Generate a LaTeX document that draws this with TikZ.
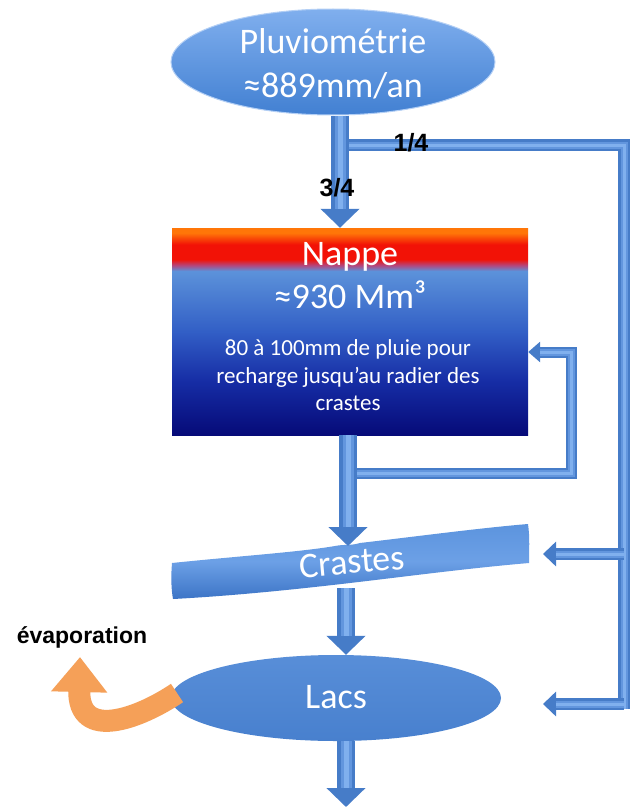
\documentclass[tikz,border=0pt]{standalone}
\usepackage{fontspec}
\setmainfont{Carlito}
\newfontfamily\labfont{Liberation Sans}
\usetikzlibrary{shapes.geometric,arrows.meta}
\definecolor{arrowdark}{RGB}{70,124,200}
\definecolor{arrowmid}{RGB}{98,150,222}
\definecolor{arrowlight}{RGB}{128,176,238}
\definecolor{pluvtop}{RGB}{128,175,238}
\definecolor{pluvbot}{RGB}{66,128,210}
\definecolor{lacstop}{RGB}{88,142,216}
\definecolor{lacsbot}{RGB}{72,128,206}
\definecolor{crtop}{RGB}{92,148,222}
\definecolor{crmid}{RGB}{108,160,230}
\definecolor{crbot}{RGB}{60,116,198}
\definecolor{evapcol}{RGB}{245,160,88}
\definecolor{nv0}{RGB}{6,10,120}
\definecolor{nv1}{RGB}{22,45,165}
\definecolor{nv2}{RGB}{50,95,198}
\definecolor{nv3}{RGB}{92,146,218}
\definecolor{nvp}{RGB}{180,70,125}
\definecolor{nred}{RGB}{242,18,6}
\definecolor{norange}{RGB}{255,118,8}
\pgfdeclareverticalshading{nappeshade}{100bp}{color(0bp)=(nv0); color(25bp)=(nv0); color(38bp)=(nv1); color(50bp)=(nv2); color(64.6bp)=(nv3); color(66bp)=(nvp); color(67.4bp)=(nred); color(71bp)=(nred); color(73.8bp)=(norange); color(100bp)=(norange)}
\begin{document}
\begin{tikzpicture}[x=1pt,y=-1pt,
  flow/.style={draw=arrowdark, line width=18pt, -{Triangle[length=19pt,width=38pt]},
    postaction={draw=arrowmid, line width=11pt, -, shorten >=19pt},
    postaction={draw=arrowlight, line width=5pt, -, shorten >=19pt}},
  sflow/.style={draw=arrowdark, line width=12pt, -{Triangle[length=13pt,width=24pt]},
    postaction={draw=arrowmid, line width=7pt, -, shorten >=13pt},
    postaction={draw=arrowlight, line width=3pt, -, shorten >=13pt}},
  loopflow/.style={draw=arrowdark, line width=11pt, -{Triangle[length=12pt,width=20pt]},
    postaction={draw=arrowmid, line width=7pt, -, shorten >=12pt},
    postaction={draw=arrowlight, line width=3pt, -, shorten >=12pt}},
  barline/.style={draw=arrowdark, line width=12pt,
    postaction={draw=arrowmid, line width=7pt},
    postaction={draw=arrowlight, line width=3pt}},
  evap/.style={draw=evapcol, line width=22pt, -{Triangle[length=35pt,width=54pt]}},
  bigtext/.style={text=white, font=\fontsize{36}{44}\selectfont, align=center},
  smalltext/.style={text=white, font=\fontsize{23}{28}\selectfont, align=center},
  fraclabel/.style={font=\labfont\bfseries\fontsize{25}{28}\selectfont},
]
\useasboundingbox[fill=white] (0,0) rectangle (631,808);

% coordinates
\coordinate (s1) at (340,0);
\coordinate (j1) at (340,145);
\coordinate (rb) at (624,145);
\coordinate (rbb) at (624,709);
\coordinate (r1) at (624,554);
\coordinate (c1) at (543,554);
\coordinate (r2) at (624,704);
\coordinate (l2) at (543,704);
\coordinate (s2) at (348,0);
\coordinate (crtopc) at (348,546);
\coordinate (lp1) at (348,473);
\coordinate (lp2) at (571,473);
\coordinate (lp3) at (571,352);
\coordinate (crbotc) at (346,588);
\coordinate (s3) at (346,0);
\coordinate (outc) at (346,807);
\coordinate (ev0) at (177,693);
\coordinate (ev1) at (80,657);

% nodes
\node[ellipse, minimum width=324pt, minimum height=106pt, inner sep=0pt,
      top color=pluvtop, bottom color=pluvbot, draw=pluvtop!60!white, line width=1pt] (pluv) at (333,62) {};
\node[bigtext] (pluvtxt) at (333,64) {Pluviométrie\\≈889mm/an};

\node[rectangle, minimum width=356pt, minimum height=207pt, inner sep=0pt,
      shading=nappeshade] (nappe) at (350,331.5) {};
\node[bigtext, anchor=base] (nappetitle) at (350,265) {Nappe};
\node[bigtext, anchor=base] (nappevol) at (350,308) {≈930 Mm³};
\node[smalltext, anchor=base] (nappel1) at (348,355) {80 à 100mm de pluie pour};
\node[smalltext, anchor=base] (nappel2) at (348,383) {recharge jusqu’au radier des};
\node[smalltext, anchor=base] (nappel3) at (348,410) {crastes};

% crastes band
\shade[top color=crtop, bottom color=crbot, middle color=crmid]
  (172,563) .. controls (240,556) and (300,552) .. (335,546)
  .. controls (345,544) and (350,546) .. (360,543)
  .. controls (420,536) and (480,528) .. (528,524)
  .. controls (530,538) and (529,550) .. (529,563)
  .. controls (470,568) and (410,576) .. (350,583)
  .. controls (290,590) and (230,596) .. (173,599)
  .. controls (171,588) and (171,575) .. cycle;
\node[bigtext, rotate=5] (crastes) at (352,562) {Crastes};

\node[ellipse, minimum width=330pt, minimum height=86pt, inner sep=0pt,
      top color=lacstop, bottom color=lacsbot] (lacs) at (336,698) {};
\node[bigtext] (lacstxt) at (336,697) {Lacs};

% bars
\draw[barline] (j1) -- (rb) -- (rbb);
\draw[loopflow] (lp1) -- (lp2) -- (lp3) -- (nappe.east |- lp3);

% flows
\draw[flow] (pluv.south -| s1) -- (nappe.north -| s1);
\draw[flow] (nappe.south -| s2) -- (crtopc);
\draw[flow] (crbotc) -- (lacs.north -| crbotc);
\draw[flow] (lacs.south -| s3) -- (outc);
\draw[sflow] (r1) -- (c1);
\draw[sflow] (r2) -- (l2);

% evaporation
\draw[evap] (ev0) .. controls (140,718) and (78,742) .. (ev1);

% labels
\node[fraclabel] (quart) at (411,143) {1/4};
\node[fraclabel] (troisq) at (337,188) {3/4};
\node[font=\labfont\bfseries\fontsize{23}{26}\selectfont] (evaplab) at (82,637) {évaporation};
\end{tikzpicture}
\end{document}
